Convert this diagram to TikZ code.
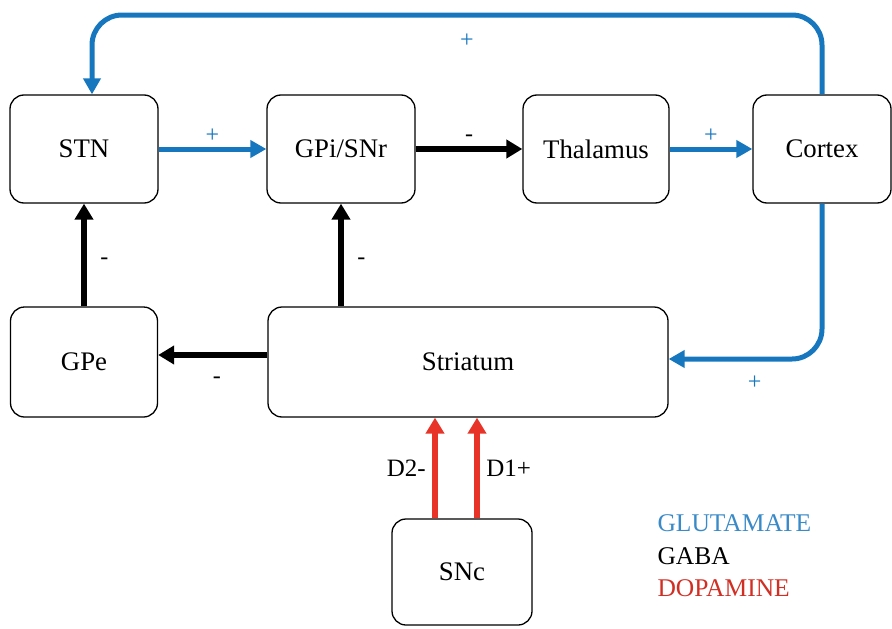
\documentclass[tikz,border=0pt]{standalone}
\usepackage{fontspec}
\setmainfont{Liberation Serif}
\usetikzlibrary{arrows.meta}
\definecolor{glublue}{RGB}{22,118,190}
\definecolor{dopared}{RGB}{232,52,40}
\begin{document}
\begin{tikzpicture}[x=1pt, y=-1pt,
  region/.style={draw, line width=1.3pt, rounded corners=14pt, fill=white,
    font=\fontsize{26.8}{30}\selectfont},
  glu/.style={draw=glublue, line width=5pt, -{Triangle[length=16pt,width=17pt]}},
  gaba/.style={draw=black, line width=6pt, -{Triangle[length=16pt,width=18pt]}},
  dopa/.style={draw=dopared, line width=6pt, -{Triangle[length=16pt,width=18pt]}},
  sign/.style={font=\fontsize{24}{28}\selectfont},
  legend/.style={anchor=west, font=\fontsize{25.5}{30}\selectfont}
  ]
  \useasboundingbox (0,0) rectangle (892,629);
  % regions
  \node[region, minimum width=148pt, minimum height=108pt] (stn) at (84,149) {STN};
  \node[region, minimum width=148pt, minimum height=108pt] (gpi) at (341,149) {GPi/SNr};
  \node[region, minimum width=146pt, minimum height=108pt] (thal) at (596,149) {Thalamus};
  \node[region, minimum width=138pt, minimum height=108pt] (cortex) at (822,149) {Cortex};
  \node[region, minimum width=147pt, minimum height=110pt] (gpe) at (84,362) {GPe};
  \node[region, minimum width=400pt, minimum height=110pt] (striatum) at (468,362) {Striatum};
  \node[region, minimum width=140pt, minimum height=106pt] (snc) at (462,572) {SNc};
  \coordinate (top) at (0,15);
  % glutamate
  \draw[glu] (stn.east) -- node[sign, text=glublue, above=1pt] {+} (gpi.west);
  \draw[glu] (thal.east) -- node[sign, text=glublue, above=1pt] {+} (cortex.west);
  \draw[glu, rounded corners=30pt] (cortex.north) -- (cortex.north |- top)
    -- node[sign, text=glublue, below=13pt, xshift=10pt] {+} ([xshift=8pt]stn.north |- top)
    -- ([xshift=8pt]stn.north);
  \draw[glu, rounded corners=30pt] (cortex.south) |- node[sign, text=glublue, pos=0.72, below=11pt] {+}
    ([yshift=3pt]striatum.east);
  % gaba
  \draw[gaba] (gpi.east) -- node[sign, above=1pt] {-} (thal.west);
  \draw[gaba] (gpe.north) -- node[sign, right=10pt, yshift=-6pt] {-} (stn.south);
  \draw[gaba] (striatum.north -| gpi) -- node[sign, right=10pt, yshift=-6pt] {-} (gpi.south);
  \draw[gaba] ([yshift=7pt]striatum.west) -- node[sign, below=16pt, xshift=4pt] {-} ([yshift=7pt]gpe.east);
  % dopamine
  \draw[dopa] ([xshift=-27pt]snc.north) -- node[sign, left=3pt, font=\fontsize{25}{29}\selectfont] {D2-}
    ([xshift=-27pt]snc.north |- striatum.south);
  \draw[dopa] ([xshift=15pt]snc.north) -- node[sign, right=3pt, font=\fontsize{25}{29}\selectfont] {D1+}
    ([xshift=15pt]snc.north |- striatum.south);
  % legend
  \node[legend, text=glublue!85] (lglu) at (654,523) {GLUTAMATE};
  \node[legend] (lgaba) at (654,556) {GABA};
  \node[legend, text=dopared!90!black] (ldopa) at (654,588) {DOPAMINE};
\end{tikzpicture}
\end{document}
